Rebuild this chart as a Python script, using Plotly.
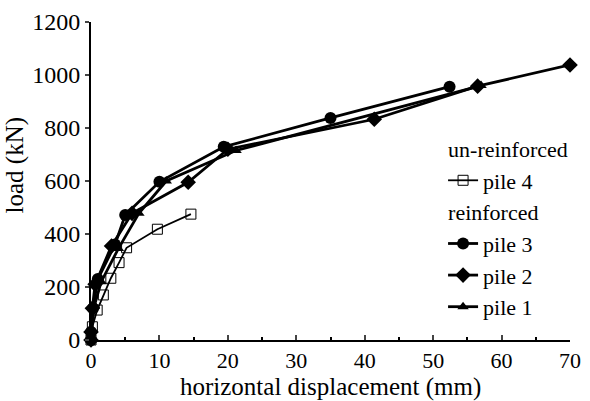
import plotly.graph_objects as go

# pile 4 (un-reinforced)
p4_x = [0, 0.2, 0.9, 1.8, 2.9, 4.1, 5.2, 9.7, 14.6]
p4_y = [0, 50, 113, 170, 233, 292, 348, 418, 475]
# pile 3 (reinforced)
p3_x = [0, 0, 0.3, 1.0, 3.5, 5.0, 10.0, 19.4, 35.0, 52.4]
p3_y = [0, 30, 120, 230, 360, 472, 597, 729, 838, 956]
# pile 2 (reinforced)
p2_x = [0, 0, 0.2, 0.6, 3.0, 6.0, 14.2, 20.0, 41.4, 56.5, 70.0]
p2_y = [0, 30, 120, 210, 355, 478, 595, 720, 833, 958, 1038]
# pile 1 (reinforced)
p1_x = [0, 0.1, 0.5, 1.5, 4.0, 7.0, 11.0, 21.2, 57.0]
p1_y = [0, 40, 130, 220, 345, 478, 600, 715, 960]

x_ticks = [0, 10, 20, 30, 40, 50, 60, 70]
y_ticks = [0, 200, 400, 600, 800, 1000, 1200]

FONT = "Liberation Serif"
TFS = 22   # tick labels
AFS = 25   # axis titles
LFS = 22   # legend
fig = go.Figure()

fig.add_trace(go.Scatter(x=p4_x, y=p4_y, mode="lines+markers", name="pile 4",
    legendgroup="u", legendgrouptitle=dict(text="un-reinforced", font=dict(size=LFS, family=FONT, color="black")),
    line=dict(color="black", width=1.8), cliponaxis=False,
    marker=dict(symbol="square-open", size=10, color="black", line=dict(width=1))))
fig.add_trace(go.Scatter(x=p3_x, y=p3_y, mode="lines+markers", name="pile 3",
    legendgroup="r", legendgrouptitle=dict(text="reinforced", font=dict(size=LFS, family=FONT, color="black")),
    line=dict(color="black", width=2.8), cliponaxis=False,
    marker=dict(symbol="circle", size=12, color="black")))
fig.add_trace(go.Scatter(x=p2_x, y=p2_y, mode="lines+markers", name="pile 2",
    legendgroup="r", cliponaxis=False,
    line=dict(color="black", width=2.8),
    marker=dict(symbol="diamond", size=12, color="black")))
fig.add_trace(go.Scatter(x=p1_x, y=p1_y, mode="lines+markers", name="pile 1",
    legendgroup="r", cliponaxis=False,
    line=dict(color="black", width=2.8),
    marker=dict(symbol="triangle-up", size=10, color="black")))

fig.add_annotation(text="horizontal displacement (mm)", xref="paper", yref="paper",
                   x=0.5, y=-0.148, xanchor="center", yanchor="middle", showarrow=False,
                   font=dict(family=FONT, size=AFS, color="black"))
fig.add_annotation(text="load (kN)", xref="paper", yref="paper", textangle=-90,
                   x=-0.158, y=0.55, xanchor="center", yanchor="middle", showarrow=False,
                   font=dict(family=FONT, size=AFS, color="black"))

fig.update_layout(
    width=590, height=401,
    margin=dict(l=91, r=18, t=22, b=61),
    paper_bgcolor="white", plot_bgcolor="white",
    font=dict(family=FONT, size=TFS, color="black"),
    legend=dict(x=0.735, y=0.667, xanchor="left", yanchor="top",
                font=dict(size=LFS, family=FONT), tracegroupgap=0,
                bgcolor="rgba(0,0,0,0)"),
    xaxis=dict(range=[0, 70], tickvals=x_ticks, ticks="inside", ticklen=5, tickwidth=1.5,
               showline=True, linecolor="black", linewidth=2, showgrid=False, zeroline=False,
               tickfont=dict(family=FONT, size=TFS), automargin=False,
               minor=dict(dtick=5, ticks="inside", ticklen=3, tickcolor="black")),
    yaxis=dict(range=[0, 1200], tickvals=y_ticks, ticks="outside", ticklen=4, tickwidth=1.5,
               showline=True, linecolor="black", linewidth=2, showgrid=False, zeroline=False,
               tickfont=dict(family=FONT, size=24), automargin=False),
)

fig.write_html("out.html")
